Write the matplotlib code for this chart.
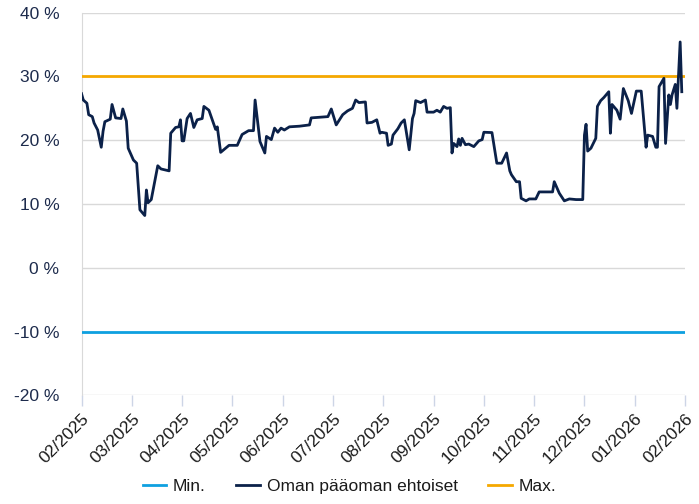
import pandas as pd
import matplotlib.pyplot as plt

# Series: Oman pääoman ehtoiset (%)
DATES = [
    '2025-02-01', '2025-02-02', '2025-02-04', '2025-02-05', '2025-02-07', '2025-02-08',
    '2025-02-10', '2025-02-12', '2025-02-13', '2025-02-14', '2025-02-17', '2025-02-18',
    '2025-02-20', '2025-02-23', '2025-02-24', '2025-02-26', '2025-02-27',
    '2025-03-02', '2025-03-04', '2025-03-06', '2025-03-09', '2025-03-10', '2025-03-11',
    '2025-03-13', '2025-03-17', '2025-03-19', '2025-03-24', '2025-03-25', '2025-03-28',
    '2025-03-30', '2025-03-31',
    '2025-04-01', '2025-04-02', '2025-04-04', '2025-04-06', '2025-04-08', '2025-04-10',
    '2025-04-13', '2025-04-14', '2025-04-17', '2025-04-19', '2025-04-21', '2025-04-22',
    '2025-04-24', '2025-04-29',
    '2025-05-04', '2025-05-07', '2025-05-11', '2025-05-14', '2025-05-15', '2025-05-18',
    '2025-05-21', '2025-05-22', '2025-05-25', '2025-05-27', '2025-05-29', '2025-05-31',
    '2025-06-02', '2025-06-05', '2025-06-11', '2025-06-17', '2025-06-18', '2025-06-28',
    '2025-06-30',
    '2025-07-03', '2025-07-07', '2025-07-10', '2025-07-13', '2025-07-15', '2025-07-17',
    '2025-07-21', '2025-07-22', '2025-07-25', '2025-07-28', '2025-07-30', '2025-07-31',
    '2025-08-03', '2025-08-04', '2025-08-06', '2025-08-07', '2025-08-10', '2025-08-12',
    '2025-08-14', '2025-08-17', '2025-08-19', '2025-08-20', '2025-08-21', '2025-08-24',
    '2025-08-27', '2025-08-28',
    '2025-09-01', '2025-09-03', '2025-09-05', '2025-09-07', '2025-09-09', '2025-09-11',
    '2025-09-12', '2025-09-13', '2025-09-15', '2025-09-16', '2025-09-17', '2025-09-18',
    '2025-09-20', '2025-09-22', '2025-09-25', '2025-09-28', '2025-09-30',
    '2025-10-01', '2025-10-06', '2025-10-09', '2025-10-12', '2025-10-15', '2025-10-17',
    '2025-10-18', '2025-10-21', '2025-10-23', '2025-10-24', '2025-10-27', '2025-10-29',
    '2025-11-02', '2025-11-04', '2025-11-12', '2025-11-13', '2025-11-16', '2025-11-19',
    '2025-11-22', '2025-11-26', '2025-11-30',
    '2025-12-01', '2025-12-02', '2025-12-03', '2025-12-05', '2025-12-08', '2025-12-09',
    '2025-12-11', '2025-12-13', '2025-12-16', '2025-12-17', '2025-12-18', '2025-12-21',
    '2025-12-23', '2025-12-25', '2025-12-28', '2025-12-30',
    '2026-01-02', '2026-01-05', '2026-01-08', '2026-01-09', '2026-01-12', '2026-01-14',
    '2026-01-15', '2026-01-16', '2026-01-19', '2026-01-20', '2026-01-22', '2026-01-23',
    '2026-01-24', '2026-01-26', '2026-01-27', '2026-01-29', '2026-01-30',
]
EQUITY = [
    27.3, 26.3, 25.8, 24.0, 23.7, 22.7,
    21.6, 18.9, 21.4, 22.9, 23.3, 25.6,
    23.5, 23.4, 24.9, 23.0, 18.75,
    16.9, 16.4, 9.1, 8.2, 12.2, 10.2,
    10.7, 16.0, 15.5, 15.2, 21.1, 22.0,
    22.1, 23.2,
    19.9, 19.9, 23.4, 24.2, 22.0, 23.2,
    23.4, 25.3, 24.7, 23.2, 21.7, 22.1,
    18.1, 19.2,
    19.2, 20.9, 21.5, 21.5, 26.3, 19.8,
    18.0, 20.6, 20.1, 21.9, 21.25, 21.9,
    21.6, 22.1, 22.2, 22.4, 23.5, 23.7,
    24.9,
    22.4, 24.0, 24.6, 25.0, 26.3, 25.9,
    26.0, 22.7, 22.8, 23.2, 21.1, 21.25,
    21.1, 19.2, 19.4, 20.8, 21.8, 22.7,
    23.2, 18.5, 23.4, 24.2, 26.2, 25.9,
    26.3, 24.4,
    24.4, 24.7, 24.4, 25.3, 25.0, 25.1,
    18.0, 19.5, 19.0, 20.2, 19.2, 20.3,
    19.3, 19.4, 19.0, 19.9, 20.1,
    21.25, 21.2, 16.4, 16.4, 18.0, 15.2,
    14.6, 13.5, 13.5, 10.9, 10.5, 10.8,
    10.8, 11.9, 11.9, 13.5, 11.7, 10.5,
    10.8, 10.7, 10.7,
    20.8, 22.5, 18.3, 18.75, 20.3, 25.3,
    26.2, 26.7, 27.6, 21.1, 25.6, 24.7,
    23.3, 28.1, 26.2, 24.2,
    27.7, 27.7, 18.9, 20.8, 20.6, 18.9,
    18.9, 28.4, 29.7, 19.5, 27.1, 25.6,
    27.1, 28.75, 25.0, 35.4, 27.6,
]
MIN_LEVEL = -10
MAX_LEVEL = 30
MONTH_LABELS = ['02/2025', '03/2025', '04/2025', '05/2025', '06/2025', '07/2025',
                '08/2025', '09/2025', '10/2025', '11/2025', '12/2025', '01/2026',
                '02/2026']
Y_TICKS = [-20, -10, 0, 10, 20, 30, 40]

NAVY = '#0b2149'
LIGHT_BLUE = '#0ea0e0'
ORANGE = '#f5a800'
TEXT = '#1d2b4c'


def month_position(dates):
    """Months since Feb 2025, each month the same width on the axis."""
    d = pd.to_datetime(pd.Series(dates))
    return ((d.dt.year - 2025) * 12 + d.dt.month - 2
            + (d.dt.day - 1) / d.dt.days_in_month).to_numpy()


def main():
    plt.rcParams['font.family'] = ['Liberation Sans', 'DejaVu Sans']
    fig = plt.figure(figsize=(6.99, 5.04), dpi=100)
    ax = fig.add_axes([0.1166, 0.2153, 0.9800 - 0.1166, 0.975 - 0.2153])

    x = month_position(DATES)
    n_months = len(MONTH_LABELS) - 1
    ax.plot([0, n_months], [MIN_LEVEL, MIN_LEVEL], color=LIGHT_BLUE, lw=2.0,
            label='Min.', zorder=3)
    ax.plot(x, EQUITY, color=NAVY, lw=2.0, label='Oman pääoman ehtoiset',
            zorder=4)
    ax.plot([0, n_months], [MAX_LEVEL, MAX_LEVEL], color=ORANGE, lw=2.0,
            label='Max.', zorder=3)

    ax.set_xlim(0, n_months)
    ax.set_ylim(-20, 40)
    ax.set_yticks(Y_TICKS)
    ax.set_yticklabels([f'{v} %' for v in Y_TICKS], fontsize=12.5, color=TEXT)
    ax.set_xticks(range(len(MONTH_LABELS)))
    ax.set_xticklabels(MONTH_LABELS, rotation=45, ha='right',
                       rotation_mode='anchor', fontsize=12.5, color='#1a1a1a')

    ax.grid(axis='y', color='#d9d9d9', lw=1.0)
    ax.set_axisbelow(True)
    for side in ['top', 'right', 'bottom']:
        ax.spines[side].set_visible(False)
    ax.spines['left'].set_color('#d9d9d9')
    ax.tick_params(axis='y', length=0, pad=16)
    ax.tick_params(axis='x', length=8, width=1.0, color='#cdd5e6', pad=3)

    fig.legend(loc='lower center', bbox_to_anchor=(0.5, -0.012), ncol=3,
               frameon=False, fontsize=12.5, handlelength=1.35,
               handletextpad=0.4, columnspacing=1.75, labelcolor='#1a1a1a')

    fig.savefig('out.png', dpi=100)


if __name__ == '__main__':
    main()
